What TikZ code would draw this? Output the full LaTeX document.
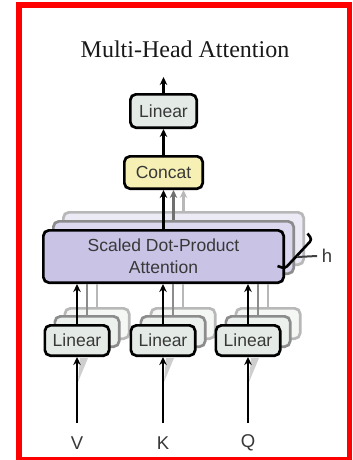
\documentclass[tikz,border=0pt]{standalone}
\usepackage{fontspec}
\setmainfont{Liberation Serif}
\setsansfont{Liberation Sans}
\usetikzlibrary{arrows.meta}

\definecolor{txt}{HTML}{383838}
\definecolor{linfill}{HTML}{E4EAE6}
\definecolor{linfillB}{HTML}{EDF1EE}
\definecolor{linfillC}{HTML}{F5F7F5}
\definecolor{catfill}{HTML}{F6F0B4}
\definecolor{attfill}{HTML}{C9C3E6}
\definecolor{attfillB}{HTML}{DCD8EF}
\definecolor{attfillC}{HTML}{ECEAF5}
\definecolor{edgeB}{HTML}{8C8C8C}
\definecolor{edgeC}{HTML}{B8B8B8}
\definecolor{frame}{HTML}{FF0000}

\begin{document}
\begin{tikzpicture}[x=1pt,y=-1pt,
  blk/.style={draw=black, line width=2.7pt, rounded corners=5.5pt, inner sep=0pt,
    text=txt, font=\sffamily\fontsize{17.5}{22}\selectfont, align=center},
  linbox/.style={blk, fill=linfill, minimum width=64.3pt, minimum height=30.3pt},
  topbox/.style={blk, fill=linfill, minimum width=66.3pt, minimum height=33.3pt},
  catbox/.style={blk, fill=catfill, minimum width=78.3pt, minimum height=32.3pt},
  attbox/.style={blk, fill=attfill, minimum width=240.3pt, minimum height=52.3pt},
  ghostB/.style={draw=edgeB},
  ghostC/.style={draw=edgeC},
  arr/.style={line width=2.6pt, -{Stealth[length=8pt,width=7.5pt]}},
  ghostline/.style={line width=2.2pt},
  lbl/.style={text=txt, font=\sffamily\fontsize{18.5}{18.5}\selectfont, inner sep=0pt}
]
\clip (0,0) rectangle (353,460);
\fill[white] (0,0) rectangle (353,460);

% red outer frame
\draw[frame, line width=5.5pt] (19,5) rectangle (349.5,459.5);

% title and output arrow
\node[font=\fontsize{24}{24}\selectfont, text=black!90, anchor=base, inner sep=0pt]
  (title) at (185,58) {Multi-Head Attention};
\coordinate (out) at (163.5,77);

% output projection and concatenation
\node[topbox] (linO) at (163.5,111) {Linear};
\node[catbox] (cat) at (163.5,172.5) {Concat};
\draw[arr] (linO.north) -- (out);
\draw[arr] (cat.north) -- (linO.south);

% stacked attention heads
\node[attbox, ghostC, fill=attfillC] (attC) at (183.5,238.5) {};
\node[attbox, ghostB, fill=attfillB] (attB) at (173.5,247.5) {};
\draw[arr, edgeC] (attC.north) -- (attC.north |- cat.south);
\draw[arr, edgeB!80!black] (attB.north) -- (attB.north |- cat.south);

% stacked input projections (back copies)
\foreach \n/\x in {V/77,K/163,Q/248} {
  \node[linbox, ghostC, fill=linfillC] (lin\n C) at (\x+20,323.5) {};
}
\foreach \n/\x in {V/77,K/163,Q/248} {
  \node[linbox, ghostB, fill=linfillB] (lin\n B) at (\x+10,331.5) {};
}

\node[attbox] (att) at (163.5,256.5) {Scaled Dot-Product\\Attention};
\draw[arr] (att.north) -- (cat.south);

% head-count bracket
\draw[line width=2.6pt, rounded corners=3pt]
  (307.5,233.5) -- (312,239.5) -- (285,268.5) -- (277.5,266);
\node[lbl, inner sep=4.5pt] (h) at (327,256) {h};
\coordinate (hb) at (297,257);
\draw[line width=2pt, black!75] (hb) -- (h.west);

% front input projections, their inputs and outputs
\foreach \n/\x in {V/77,K/163,Q/248} {
  \draw[ghostline, edgeC] (lin\n C.north) -- (lin\n C.north |- att.south);
  \draw[ghostline, edgeB] (lin\n B.north) -- (lin\n B.north |- att.south);
  \node[linbox] (lin\n) at (\x,340.5) {Linear};
  \draw[arr] (lin\n.north) -- (lin\n.north |- att.south);
  \node[lbl] (in\n) at (\x,443) {\n};
  \coordinate (src\n) at (\x,423);
  \fill[black!35, opacity=0.55] (\x+1,382) -- (\x+11,358) -- (\x+3,358) -- cycle;
  \draw[arr] (src\n) -- (lin\n.south);
}
\end{tikzpicture}
\end{document}
